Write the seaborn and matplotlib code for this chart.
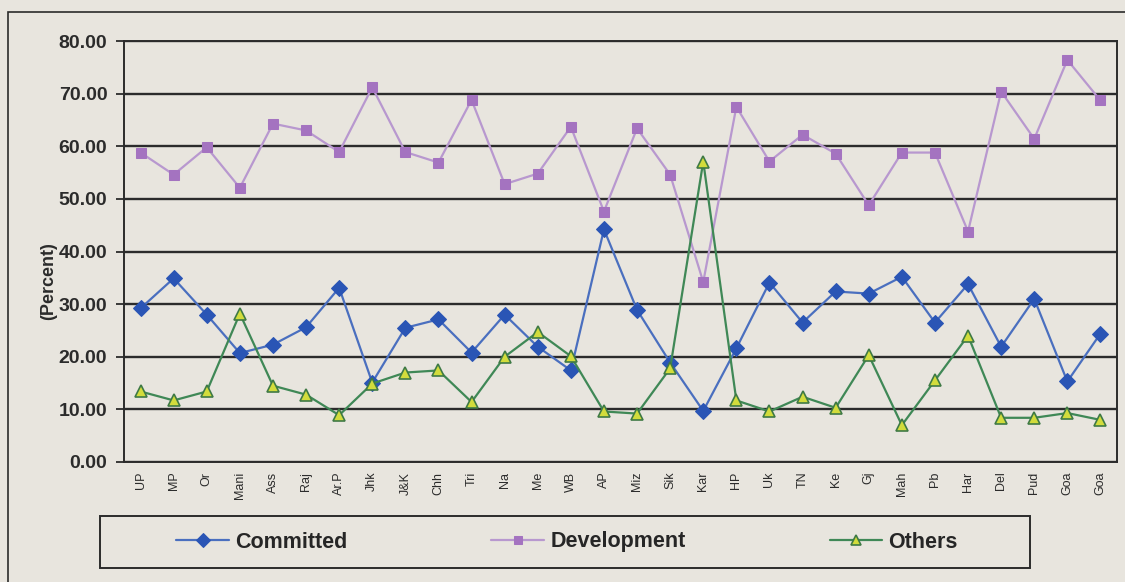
import numpy as np
import pandas as pd
import matplotlib
matplotlib.use("Agg")
import matplotlib.pyplot as plt
from matplotlib.patches import Rectangle
import seaborn as sns

# Data (percent)
states = ["UP", "MP", "Or", "Mani", "Ass", "Raj", "Ar.P", "Jhk", "J&K", "Chh",
          "Tri", "Na", "Me", "WB", "AP", "Miz", "Sik", "Kar", "HP", "Uk",
          "TN", "Ke", "Gj", "Mah", "Pb", "Har", "Del", "Pud", "Goa", "Goa"]
committed = [29.2, 34.9, 28.0, 20.7, 22.3, 25.6, 33.1, 15.1, 25.5, 27.1,
             20.8, 28.0, 21.9, 17.4, 44.2, 28.9, 18.9, 9.7, 21.6, 34.1,
             26.5, 32.4, 32.0, 35.2, 26.5, 33.8, 21.9, 31.0, 15.3, 24.4]
development = [58.8, 54.6, 59.8, 52.1, 64.3, 63.0, 58.9, 71.2, 58.9, 56.9,
               68.8, 52.8, 54.8, 63.7, 47.6, 63.4, 54.6, 34.2, 67.5, 57.1,
               62.2, 58.6, 48.8, 58.8, 58.8, 43.8, 70.4, 61.4, 76.4, 68.7]
others = [13.4, 11.7, 13.4, 28.2, 14.5, 12.8, 8.9, 14.9, 17.0, 17.4,
          11.4, 20.0, 24.7, 20.1, 9.6, 9.2, 17.8, 57.1, 11.7, 9.6,
          12.4, 10.3, 20.3, 7.0, 15.5, 24.0, 8.4, 8.4, 9.3, 8.0]

bg = "#e8e5de"
dark = "#2b2b2b"

sns.set_style("white")
plt.rcParams["font.family"] = ["Liberation Sans", "DejaVu Sans"]
plt.rcParams["figure.facecolor"] = bg
plt.rcParams["axes.facecolor"] = bg

fig = plt.figure(figsize=(11.25, 5.82), dpi=100)
ax = fig.add_axes([124 / 1125, 1 - 462 / 582, 993 / 1125, 421 / 582])

pos = np.arange(len(states))

sns.lineplot(x=pos, y=committed, ax=ax, color="#4a6fbf", lw=1.6,
             marker="D", markersize=8, markerfacecolor="#2a55b5",
             markeredgecolor="#2a55b5", label="Committed")
sns.lineplot(x=pos, y=development, ax=ax, color="#b898cf", lw=1.6,
             marker="s", markersize=7.5, markerfacecolor="#a473c0",
             markeredgecolor="#a473c0", label="Development")
sns.lineplot(x=pos, y=others, ax=ax, color="#3f8856", lw=1.6,
             marker="^", markersize=8.5, markerfacecolor="#d2dc3c",
             markeredgecolor="#3f7a45", markeredgewidth=1.2, label="Others")

ax.set_xlim(-0.5, len(states) - 0.5)
ax.set_ylim(0, 80)
ax.set_yticks(np.arange(0, 81, 10))
ax.set_yticklabels([f"{v:.2f}" for v in np.arange(0, 81, 10)],
                   fontsize=14, fontweight="bold", color=dark)
ax.set_xticks(pos)
ax.set_xticklabels(states, rotation=90, fontsize=9, color=dark)
ax.tick_params(axis="y", length=6, width=1.3, color=dark, pad=6, left=True)
ax.tick_params(axis="x", length=0, pad=7)

ax.grid(axis="y", color=dark, lw=1.7)
ax.set_axisbelow(True)
for side in ["left", "right", "bottom", "top"]:
    ax.spines[side].set_visible(True)
    ax.spines[side].set_color(dark)
    ax.spines[side].set_linewidth(1.4)

ax.set_xlabel("")
ax.set_ylabel("(Percent)", fontsize=13, fontweight="bold", color=dark)
ax.yaxis.set_label_coords(-0.067, 0.43)

# Legend with separate frame
handles, labels = ax.get_legend_handles_labels()
ax.legend_.remove()
fig.legend(handles, labels, loc="center", bbox_to_anchor=(567 / 1125, 1 - 542 / 582),
           ncol=3, frameon=False, prop={"weight": "bold", "size": 15.5},
           handlelength=2.45, handletextpad=0.28, columnspacing=6.7,
           markerscale=0.85)
fig.patches.append(Rectangle((100 / 1125, 1 - 568 / 582), 930 / 1125, 52 / 582,
                             transform=fig.transFigure, fill=False,
                             edgecolor=dark, lw=1.4))

# Outer frame of the scanned chart
fig.patches.append(Rectangle((8 / 1125, -0.05), 1.2, 0.05 + 1 - 12 / 582,
                             transform=fig.transFigure, fill=False,
                             edgecolor=dark, lw=1.2))

plt.savefig("out.png", dpi=100, facecolor=bg)
